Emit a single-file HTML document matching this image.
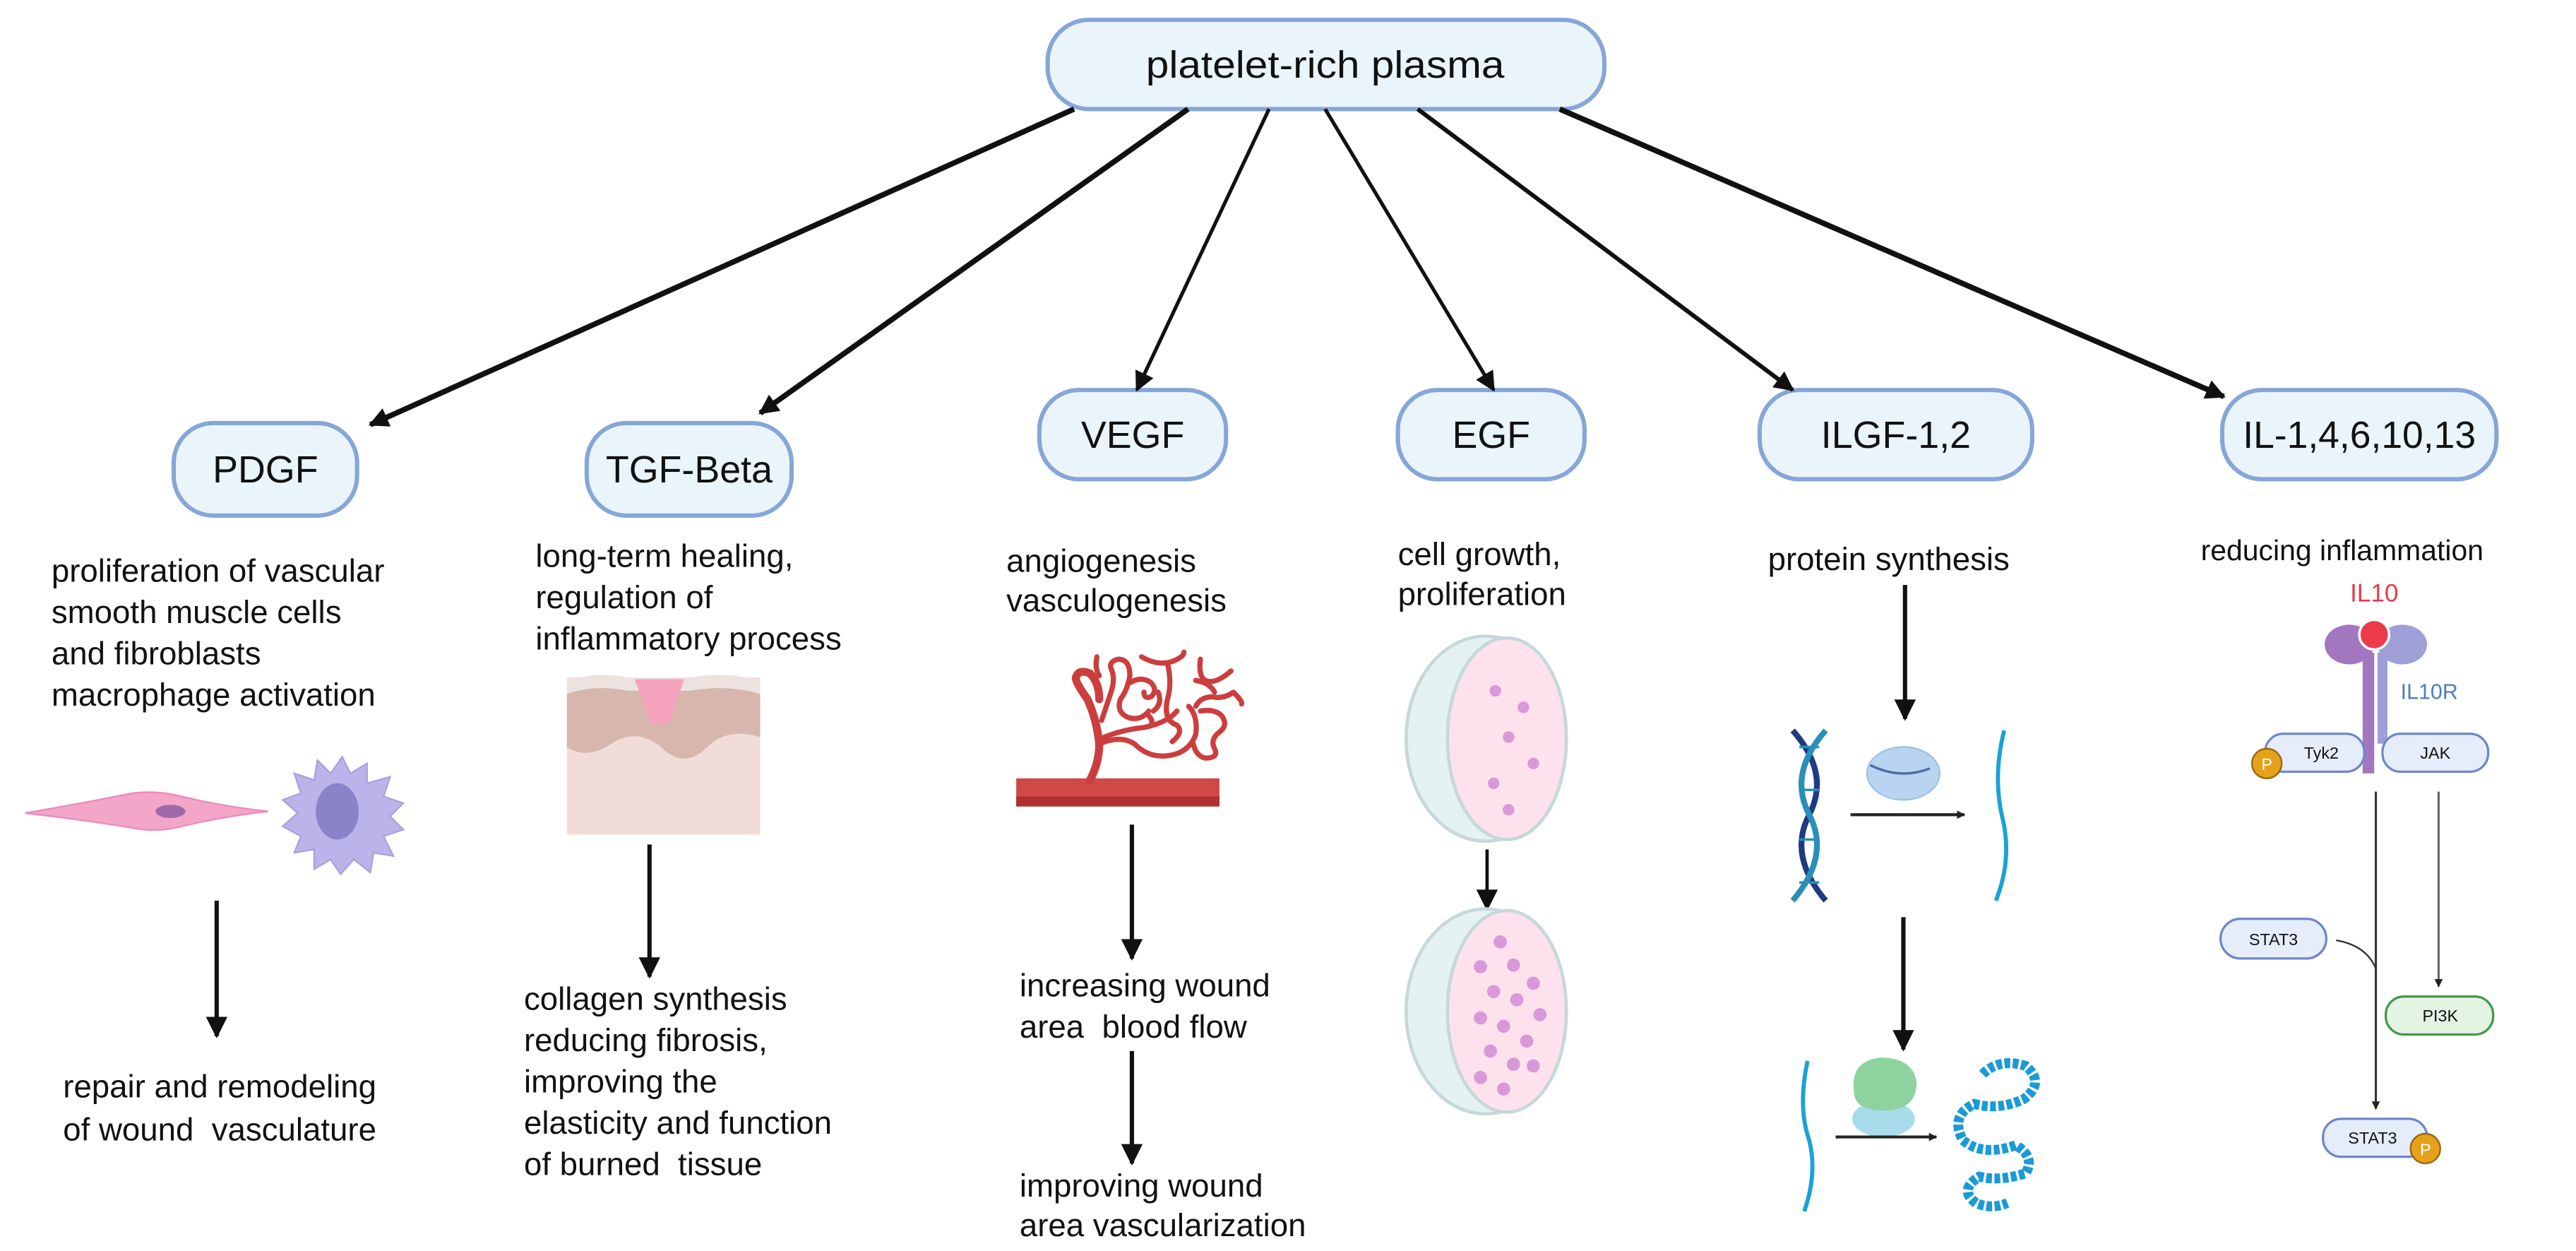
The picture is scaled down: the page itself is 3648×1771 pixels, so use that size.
<!DOCTYPE html>
<html><head><meta charset="utf-8"><style>
html,body{margin:0;padding:0;background:#fff;}
svg{display:block;}
text{font-family:"Liberation Sans",sans-serif;fill:#111;}
</style></head><body>
<svg width="3648" height="1771" viewBox="0 0 1559 757" xmlns="http://www.w3.org/2000/svg">
<defs>
<marker id="a" viewBox="0 0 10 10" refX="9" refY="5" markerWidth="15" markerHeight="12" markerUnits="userSpaceOnUse" orient="auto"><path d="M0,0L10,5L0,10z" fill="#111"/></marker>
<marker id="b" viewBox="0 0 10 10" refX="9" refY="5" markerWidth="16" markerHeight="13" markerUnits="userSpaceOnUse" orient="auto"><path d="M0,0L10,5L0,10z" fill="#111"/></marker>
<marker id="s" viewBox="0 0 10 10" refX="9" refY="5" markerWidth="6" markerHeight="5" markerUnits="userSpaceOnUse" orient="auto"><path d="M0,0L10,5L0,10z" fill="#222"/></marker>
</defs>
<g fill="#eaf4fb" stroke="#86a6d8" stroke-width="2.6">
<rect x="634" y="12" width="337" height="54" rx="25"/>
<rect x="105" y="256" width="111" height="56" rx="24"/>
<rect x="355" y="256" width="124" height="56" rx="24"/>
<rect x="629" y="236" width="113" height="54" rx="24"/>
<rect x="846" y="236" width="113" height="54" rx="24"/>
<rect x="1065" y="236" width="165" height="54" rx="24"/>
<rect x="1345" y="236" width="166" height="54" rx="24"/>
</g>
<g font-size="23" text-anchor="middle">
<text x="802" y="47" textLength="217" lengthAdjust="spacingAndGlyphs">platelet-rich plasma</text>
<text x="160.5" y="292">PDGF</text>
<text x="417" y="292">TGF-Beta</text>
<text x="685.5" y="271">VEGF</text>
<text x="902.5" y="271">EGF</text>
<text x="1147.5" y="271">ILGF-1,2</text>
<text x="1428" y="271" textLength="141" lengthAdjust="spacingAndGlyphs">IL-1,4,6,10,13</text>
</g>
<g stroke="#111" stroke-width="3.3" marker-end="url(#a)">
<line x1="650" y1="66" x2="224" y2="257"/>
<line x1="719" y1="66" x2="460" y2="250"/>
<line x1="768" y1="66" x2="688" y2="236" stroke-width="2.2"/>
<line x1="802" y1="66" x2="904" y2="236" stroke-width="2.2"/>
<line x1="858" y1="66" x2="1085" y2="236" stroke-width="2.6"/>
<line x1="944" y1="66" x2="1346" y2="240"/>
</g>
<g font-size="19.5">
<text x="31" y="352">proliferation of vascular</text>
<text x="31" y="377">smooth muscle cells</text>
<text x="31" y="402">and fibroblasts</text>
<text x="31" y="427">macrophage activation</text>
<text x="324" y="343">long-term healing,</text>
<text x="324" y="368">regulation of</text>
<text x="324" y="393">inflammatory process</text>
<text x="609" y="346">angiogenesis</text>
<text x="609" y="370">vasculogenesis</text>
<text x="846" y="342">cell growth,</text>
<text x="846" y="366">proliferation</text>
<text x="1070" y="345">protein synthesis</text>
<text x="1332" y="339" font-size="17.5">reducing inflammation</text>
<text x="38" y="664">repair and remodeling</text>
<text x="38" y="690" xml:space="preserve">of wound  vasculature</text>
<text x="317" y="611">collagen synthesis</text>
<text x="317" y="636">reducing fibrosis,</text>
<text x="317" y="661">improving the</text>
<text x="317" y="686">elasticity and function</text>
<text x="317" y="711" xml:space="preserve">of burned  tissue</text>
<text x="617" y="603">increasing wound</text>
<text x="617" y="628" xml:space="preserve">area  blood flow</text>
<text x="617" y="724">improving wound</text>
<text x="617" y="748">area vascularization</text>
</g>
<!-- vertical arrows -->
<g stroke="#111" stroke-width="2.6" marker-end="url(#b)">
<line x1="131" y1="545" x2="131" y2="627"/>
<line x1="393" y1="511" x2="393" y2="591"/>
<line x1="685" y1="499" x2="685" y2="580"/>
<line x1="685" y1="636" x2="685" y2="704"/>
<line x1="900" y1="514" x2="900" y2="550" stroke-width="2"/>
<line x1="1153" y1="354" x2="1153" y2="435"/>
<line x1="1152" y1="555" x2="1152" y2="635"/>
</g>
<!-- PDGF cells -->
<path d="M15,492 Q50,486 80,480 Q95,478 110,482 Q135,488 162,491 Q135,494 110,500 Q95,504 80,501 Q50,496 15,492z" fill="#f3a6c8" stroke="#ea8cba" stroke-width="1"/>
<ellipse cx="103" cy="491" rx="9" ry="4" fill="#a06aaa"/>
<path d="M207,458 L212,468 L222,462 L222,474 L236,470 L232,482 L244,486 L236,494 L244,502 L232,506 L238,518 L226,516 L224,528 L214,520 L206,529 L200,520 L190,526 L190,514 L178,516 L182,506 L171,500 L180,492 L171,484 L182,480 L178,468 L190,472 L192,460 L200,468z" fill="#bab4ea" stroke="#a9a2de" stroke-width="1"/>
<ellipse cx="204" cy="491" rx="13" ry="17" fill="#8a83c8"/>
<!-- TGF skin -->
<rect x="343" y="410" width="117" height="95" fill="#f1dcd8"/>
<path d="M343,418 Q360,410 380,412 L418,412 Q440,410 460,418 L460,446 Q440,440 428,452 Q414,466 400,452 Q385,440 370,450 Q355,460 343,452z" fill="#d6b6ad"/>
<path d="M343,412 Q360,406 380,410 L418,410 Q440,406 460,412 L460,420 Q440,414 418,418 L380,418 Q360,414 343,420z" fill="#ece2df"/>
<path d="M384,411 L414,411 L405,438 L394,438z" fill="#f5a3bd"/>
<!-- VEGF vessels -->
<rect x="615" y="471" width="123" height="17" fill="#d04848"/>
<rect x="615" y="482" width="123" height="6" fill="#ae3030"/>
<g transform="translate(598.3,376.1) scale(0.14245)" fill="none" stroke="#cc3e3e" stroke-width="22" stroke-linecap="round" stroke-linejoin="round">
<path d="M430,675 Q470,600 470,520 Q460,420 420,330 Q370,260 370,240 Q380,200 430,220 Q470,260 470,330" stroke-width="34"/>
<path d="M470,500 Q560,460 660,450 Q760,430 800,380"/>
<path d="M470,520 Q560,480 620,520 Q680,580 760,570 Q850,560 880,480 Q890,400 850,360"/>
<path d="M480,420 Q500,360 520,300 Q540,240 520,200 Q510,170 550,160 Q600,160 600,230 Q590,290 560,330 Q540,390 600,410 Q650,420 680,380"/>
<path d="M600,260 Q650,230 690,260 Q720,290 690,320 Q660,330 660,300"/>
<path d="M460,150 Q450,200 470,230"/>
<path d="M650,150 Q720,190 780,170 Q830,150 830,130"/>
<path d="M760,180 Q780,260 760,330 Q740,420 800,440 Q830,470 780,510"/>
<path d="M880,360 Q900,320 950,320 Q1000,330 1040,300 Q1080,340 1075,350"/>
<path d="M900,160 Q890,230 920,250 Q960,270 1030,210 M880,250 Q940,260 960,300"/>
<path d="M900,380 Q960,370 990,400 Q1020,440 980,470 Q940,500 960,540 Q980,580 920,580 Q880,570 870,520"/>
<path d="M720,300 Q740,350 700,380 M680,400 Q700,420 690,440"/>
</g>
<!-- EGF dishes -->
<g stroke="#c6d8da" stroke-width="2">
<ellipse cx="899" cy="447" rx="48" ry="62" fill="#e4f2f2"/>
<ellipse cx="912" cy="447" rx="36" ry="61" fill="#fde2ee"/>
<ellipse cx="899" cy="612" rx="48" ry="62" fill="#e4f2f2"/>
<ellipse cx="912" cy="612" rx="36" ry="61" fill="#fde2ee"/>
</g>
<g fill="#d999d8">
<circle cx="905" cy="418" r="3.5"/><circle cx="922" cy="428" r="3.5"/><circle cx="913" cy="446" r="3.5"/><circle cx="928" cy="462" r="3.5"/><circle cx="904" cy="474" r="3.5"/><circle cx="913" cy="490" r="3.5"/>
<circle cx="908" cy="570" r="4"/><circle cx="896" cy="585" r="4"/><circle cx="916" cy="584" r="4"/><circle cx="928" cy="595" r="4"/><circle cx="904" cy="600" r="4"/><circle cx="918" cy="605" r="4"/><circle cx="932" cy="614" r="4"/><circle cx="896" cy="616" r="4"/><circle cx="910" cy="621" r="4"/><circle cx="924" cy="630" r="4"/><circle cx="902" cy="636" r="4"/><circle cx="916" cy="644" r="4"/><circle cx="896" cy="652" r="4"/><circle cx="910" cy="659" r="4"/><circle cx="928" cy="645" r="4"/>
</g>
<!-- ILGF -->
<path d="M1085,442 Q1108,468 1095,493 Q1082,518 1105,545" stroke="#1f3a80" stroke-width="3.5" fill="none"/>
<path d="M1105,442 Q1082,468 1095,493 Q1108,518 1085,545" stroke="#2a8fb8" stroke-width="3.5" fill="none"/>
<g stroke="#2a8fb8" stroke-width="1.5"><line x1="1089" y1="452" x2="1101" y2="452"/><line x1="1089" y1="478" x2="1101" y2="478"/><line x1="1089" y1="508" x2="1101" y2="508"/><line x1="1089" y1="534" x2="1101" y2="534"/></g>
<ellipse cx="1152" cy="468" rx="22" ry="16" fill="#b8d4f0" stroke="#a0c0e6"/>
<path d="M1132,463 Q1150,472 1168,465" stroke="#4d6fa8" stroke-width="1.5" fill="none"/>
<line x1="1120" y1="493" x2="1189" y2="493" stroke="#222" stroke-width="1.8" marker-end="url(#s)"/>
<path d="M1213,442 Q1206,470 1212,495 Q1218,520 1208,545" stroke="#1aa2d8" stroke-width="2.5" fill="none"/>
<path d="M1094,642 Q1088,670 1095,690 Q1100,710 1092,733" stroke="#1aa2d8" stroke-width="2.5" fill="none"/>
<ellipse cx="1140" cy="677" rx="19" ry="11" fill="#a8dcea"/>
<path d="M1122,660 Q1120,642 1138,640 Q1158,640 1160,655 Q1160,672 1140,672 Q1122,672 1122,660z" fill="#8ed2a0"/>
<line x1="1111" y1="688" x2="1172" y2="688" stroke="#222" stroke-width="1.8" marker-end="url(#s)"/>
<path d="M1200,650 Q1210,640 1226,645 Q1238,655 1225,665 Q1210,672 1195,668 Q1180,675 1188,690 Q1200,700 1220,693 Q1232,700 1226,710 Q1210,715 1198,712 Q1185,720 1196,728 Q1205,732 1215,728" stroke="#1a9ad6" stroke-width="6" fill="none" stroke-dasharray="3.5 1.5"/>
<!-- IL10 pathway -->
<text x="1437" y="364" font-size="15" text-anchor="middle" style="fill:#e53a48">IL10</text>
<ellipse cx="1422" cy="390" rx="15" ry="12" fill="#a377c0"/>
<ellipse cx="1454" cy="390" rx="15" ry="12" fill="#9d9fd6"/>
<rect x="1430" y="395" width="7" height="73" fill="#a377c0"/>
<rect x="1439" y="395" width="6" height="55" fill="#9d9fd6"/>
<circle cx="1437" cy="384" r="9" fill="#ee3b4c" stroke="#fff" stroke-width="1.5"/>
<text x="1453" y="423" font-size="13" style="fill:#4d7dc0">IL10R</text>
<g fill="#e5edfa" stroke="#6f86c8" stroke-width="1.4">
<rect x="1371" y="444" width="60" height="23" rx="11"/>
<rect x="1442" y="444" width="64" height="23" rx="11"/>
<rect x="1344" y="556" width="64" height="24" rx="12"/>
<rect x="1406" y="677" width="63" height="23" rx="11"/>
</g>
<rect x="1444" y="603" width="65" height="23" rx="11" fill="#e3f4e3" stroke="#3f9a45" stroke-width="1.4"/>
<g font-size="10" text-anchor="middle">
<text x="1405" y="459">Tyk2</text><text x="1474" y="459">JAK</text>
<text x="1376" y="572">STAT3</text><text x="1436" y="692">STAT3</text><text x="1477" y="618">PI3K</text>
</g>
<circle cx="1372" cy="462" r="9" fill="#e3a21a" stroke="#9a6410"/>
<text x="1372" y="466" font-size="10" text-anchor="middle" style="fill:#fff">P</text>
<circle cx="1468" cy="695" r="9" fill="#e3a21a" stroke="#9a6410"/>
<text x="1468" y="699" font-size="10" text-anchor="middle" style="fill:#fff">P</text>
<line x1="1438" y1="479" x2="1438" y2="671" stroke="#333" stroke-width="1.3" marker-end="url(#s)"/>
<line x1="1476" y1="479" x2="1476" y2="597" stroke="#666" stroke-width="1.3" marker-end="url(#s)"/>
<path d="M1414,569 Q1432,572 1438,586" stroke="#333" stroke-width="1" fill="none"/>
</svg>
</body></html>
